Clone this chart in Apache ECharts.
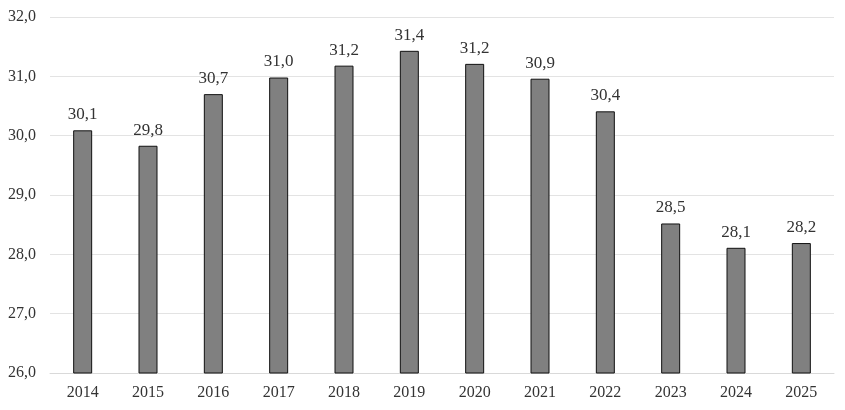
<!DOCTYPE html>
<html><head><meta charset="utf-8">
<script src="https://cdn.jsdelivr.net/npm/echarts@6/dist/echarts.min.js"></script>
<style>html,body{margin:0;padding:0;background:#fff}#c{width:845px;height:410px}</style>
</head><body><div id="c"></div>
<script>
const categories = ['2014','2015','2016','2017','2018','2019','2020','2021','2022','2023','2024','2025'];
const values = [30.09, 29.83, 30.70, 30.98, 31.18, 31.43, 31.21, 30.96, 30.41, 28.52, 28.11, 28.19];
const labels = ['30,1','29,8','30,7','31,0','31,2','31,4','31,2','30,9','30,4','28,5','28,1','28,2'];
const yMin = 26, yMax = 32, yStep = 1;

const font = '"Liberation Serif", "Times New Roman", serif';
const chart = echarts.init(document.getElementById('c'), null, {renderer: 'canvas'});
chart.setOption({
  animation: false,
  grid: {left: 50, right: 11, top: 17, bottom: 37, containLabel: false},
  xAxis: {
    type: 'category', data: categories,
    axisLine: {show: true, lineStyle: {color: '#d9d9d9'}},
    axisTick: {show: false},
    axisLabel: {color: '#333', fontFamily: font, fontSize: 16, margin: 12}
  },
  yAxis: {
    type: 'value', min: yMin, max: yMax, interval: yStep,
    axisLine: {show: false}, axisTick: {show: false},
    splitLine: {lineStyle: {color: '#e3e3e3', width: 1}},
    axisLabel: {color: '#333', fontFamily: font, fontSize: 16, margin: 14,
      formatter: v => v.toFixed(1).replace('.', ',')}
  },
  series: [{
    type: 'bar', data: values, barWidth: 19,
    itemStyle: {color: '#808080', borderColor: '#111', borderWidth: 1},
    label: {show: true, position: 'top', distance: 7, color: '#333',
      fontFamily: font, fontSize: 17,
      formatter: p => labels[p.dataIndex]}
  }]
});
</script></body></html>
